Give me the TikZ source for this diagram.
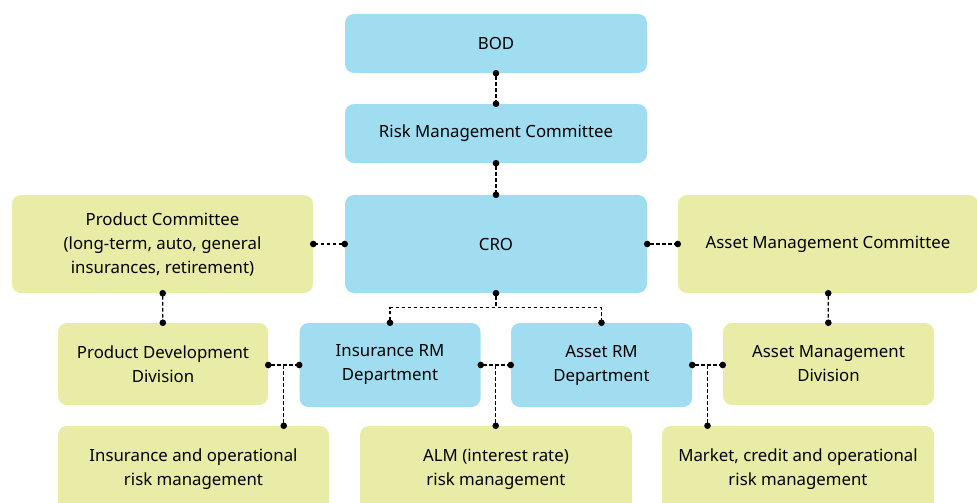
\documentclass[tikz,border=0pt]{standalone}
\usepackage{fontspec}
\setmainfont{Noto Sans}
\usetikzlibrary{arrows.meta}

\definecolor{boxblue}{RGB}{160,221,241}
\definecolor{boxgreen}{RGB}{232,236,166}

\begin{document}
\begin{tikzpicture}[x=1pt,y=-1pt,
    box/.style={rounded corners=9pt, align=center, inner sep=0pt,
      font=\fontsize{16.8}{24}\selectfont},
    bluebox/.style={box, fill=boxblue},
    greenbox/.style={box, fill=boxgreen},
    link/.style={dash pattern=on 3.6pt off 2.4pt, line width=1.2pt},
    both/.style={{Circle[length=6.5pt,width=6.5pt]}-{Circle[length=6.5pt,width=6.5pt]},
      shorten <=-3.2pt, shorten >=-3.2pt},
    tail/.style={-{Circle[length=6.5pt,width=6.5pt]}, shorten >=-3.2pt},
    head/.style={{Circle[length=6.5pt,width=6.5pt]}-, shorten <=-3.2pt}]
      \useasboundingbox (0,0) rectangle (977,503);

      % Top of the chain
      \node[bluebox, minimum width=302pt, minimum height=59pt] (bod) at (496,43.5) {BOD};
      \node[bluebox, minimum width=302pt, minimum height=59pt] (rmc) at (496,133.5) {Risk Management Committee};
      \node[bluebox, minimum width=302pt, minimum height=98pt] (cro) at (496,244) {CRO};

      % Committees
      \node[greenbox, minimum width=301pt, minimum height=98pt] (pc) at (162.5,244)
        {Product Committee\\(long-term, auto, general\\insurances, retirement)};
      \node[greenbox, minimum width=300pt, minimum height=98pt] (amc) at (828,244)
        {Asset Management Committee};

      % Divisions and departments
      \node[greenbox, minimum width=210pt, minimum height=82pt] (pdd) at (163,364)
        {Product Development\\Division};
      \node[bluebox, minimum width=181pt, minimum height=84pt] (irm) at (390,365)
        {Insurance RM\\Department};
      \node[bluebox, minimum width=181pt, minimum height=84pt] (arm) at (601.5,365)
        {Asset RM\\Department};
      \node[greenbox, minimum width=211pt, minimum height=82pt] (amd) at (828.5,364)
        {Asset Management\\Division};

      % Risk management fields
      \node[greenbox, minimum width=271pt, minimum height=86pt] (iorm) at (193.5,469)
        {Insurance and operational\\risk management};
      \node[greenbox, minimum width=272pt, minimum height=86pt] (alm) at (496,469)
        {ALM (interest rate)\\risk management};
      \node[greenbox, minimum width=272pt, minimum height=86pt] (mcorm) at (798,469)
        {Market, credit and operational\\risk management};

      % Vertical links
      \draw[link, both] (bod) -- (rmc);
      \draw[link, both] (rmc) -- (cro);
      \draw[link, both] (pc) -- (pdd);
      \draw[link, both] (amc) -- (amd);

      % Side links of CRO
      \draw[link, both] (cro.west) -- (pc.east);
      \draw[link, both] (cro.east) -- (amc.west);

      % CRO to departments
      \draw[link, both] (irm.north) -- ++(0,-15) coordinate (bend) -| (arm.north);
      \draw[link, head] (cro.south) -- (cro.south |- bend);

      % Links between the middle row, with branches down
      \draw[link, both] (pdd.east |- irm.west) -- coordinate[pos=0.5] (j1) (irm.west);
      \draw[link, both] (irm.east) -- coordinate[pos=0.5] (j2) (arm.west);
      \draw[link, both] (arm.east) -- coordinate[pos=0.5] (j3) (amd.west |- arm.east);
      \draw[link, tail] (j1) -- (j1 |- iorm.north);
      \draw[link, tail] (j2) -- (j2 |- alm.north);
      \draw[link, tail] (j3) -- (j3 |- mcorm.north);

    \end{tikzpicture}
\end{document}
